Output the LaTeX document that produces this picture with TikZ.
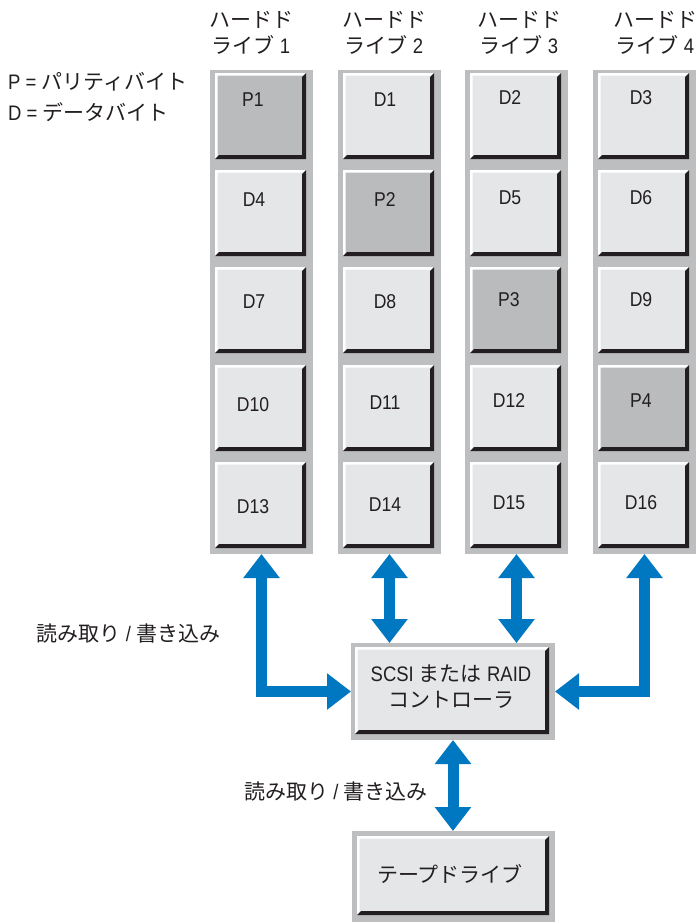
\documentclass[tikz,border=0pt]{standalone}
\usepackage{fontspec}
\setmainfont{Liberation Sans}[FakeStretch=0.88]
\newfontfamily\jp{Noto Sans CJK JP}
\usetikzlibrary{arrows.meta}
\definecolor{colgray}{HTML}{BDBEC0}
\definecolor{face}{HTML}{E5E6E8}
\definecolor{pface}{HTML}{BABBBD}
\definecolor{shadow}{HTML}{231F20}
\definecolor{ink}{HTML}{231F20}
\definecolor{arrowblue}{HTML}{0077C1}
\newcommand\hdblock[5]{%
  \fill[#5] (#1,#2) rectangle ({#1+#3},{#2+#4});
  \fill[white] (#1,{#2+#4}) -- (#1,#2) -- ({#1+#3},#2) -- ({#1+#3-2.5},{#2+2.5}) -- ({#1+2.5},{#2+2.5}) -- ({#1+2.5},{#2+#4-2.5}) -- cycle;
  \fill[shadow] ({#1+#3},#2) -- ({#1+#3},{#2+#4}) -- (#1,{#2+#4}) -- ({#1+4},{#2+#4-4}) -- ({#1+#3-4},{#2+#4-4}) -- ({#1+#3-4},{#2+4}) -- cycle;
}
\begin{document}
\begin{tikzpicture}[x=1pt,y=-1pt,
  colbg/.style={fill=colgray, draw=none, inner sep=0pt, outer sep=0pt},
  txt/.style={text=ink, inner sep=0pt, font=\fontsize{20}{24}\selectfont},
  jtxt/.style={text=ink, inner sep=0pt, align=center, font=\fontsize{21}{26}\selectfont},
  barrow/.style={draw=arrowblue, line width=11pt, line join=miter,
    {Triangle[width=35pt,length=24pt]}-{Triangle[width=35pt,length=24pt]}}]
\useasboundingbox (0,0) rectangle (697,924);
\fill[white] (0,0) rectangle (697,924);

% columns and blocks
\foreach \c/\cx in {1/210,2/338,3/465,4/593} {
  \node[colbg, minimum width=103pt, minimum height=484pt] (col\c) at ({\cx+51.5},312) {};
  \foreach \r/\ty in {1/73,2/170,3/267,4/365,5/462} {
    \ifnum\r=\c \def\ff{pface}\else\def\ff{face}\fi
    \hdblock{\cx+5}{\ty}{91}{86}{\ff}
  }
}

% headers
\node[jtxt] (h1) at (251,33) {{\jp ハードド}\\{\jp ライブ} 1};
\node[jtxt] (h2) at (384,33) {{\jp ハードド}\\{\jp ライブ} 2};
\node[jtxt] (h3) at (519,33) {{\jp ハードド}\\{\jp ライブ} 3};
\node[jtxt] (h4) at (655,33) {{\jp ハードド}\\{\jp ライブ} 4};

% legend
\node[jtxt, anchor=west] (legp) at (8,82) {P = {\jp パリティバイト}};
\node[jtxt, anchor=west] (legd) at (8,112) {D = {\jp データバイト}};

% block labels
\node[txt] (lP1) at (253,100) {P1};
\node[txt] (lD4) at (254,200) {D4};
\node[txt] (lD7) at (254,302) {D7};
\node[txt] (lD10) at (253,405) {D10};
\node[txt] (lD13) at (253,507) {D13};
\node[txt] (lD1) at (385,100) {D1};
\node[txt] (lP2) at (385,200) {P2};
\node[txt] (lD8) at (385,302) {D8};
\node[txt] (lD11) at (385,403) {D11};
\node[txt] (lD14) at (385,505) {D14};
\node[txt] (lD2) at (510,98) {D2};
\node[txt] (lD5) at (510,198) {D5};
\node[txt] (lP3) at (509,300) {P3};
\node[txt] (lD12) at (509,401) {D12};
\node[txt] (lD15) at (509,503) {D15};
\node[txt] (lD3) at (641,98) {D3};
\node[txt] (lD6) at (641,198) {D6};
\node[txt] (lD9) at (641,300) {D9};
\node[txt] (lP4) at (641,401) {P4};
\node[txt] (lD16) at (641,503) {D16};

% controller
\node[colbg, minimum width=204pt, minimum height=97pt] (ctrl) at (453,691.5) {};
\hdblock{355}{647}{194}{87}{face}
\node[jtxt] (ctrltext) at (451,687) {SCSI {\jp または} RAID\\{\jp コントローラ}};

% tape drive
\node[colbg, minimum width=203pt, minimum height=91pt] (tape) at (453.5,876.5) {};
\hdblock{357}{836}{192}{79}{face}
\node[jtxt] (tapetext) at (450,874) {{\jp テープドライブ}};

% read/write labels
\node[jtxt] (rw1) at (128.5,634) {{\jp 読み取り} / {\jp 書き込み}};
\node[jtxt] (rw2) at (336,792) {{\jp 読み取り} / {\jp 書き込み}};

% arrows
\draw[barrow] (col1.south) |- (ctrl.west);
\draw[barrow] (col2.south) -- (col2.south |- ctrl.north);
\draw[barrow] (col3.south) -- (col3.south |- ctrl.north);
\draw[barrow] (col4.south) |- (ctrl.east);
\draw[barrow] (ctrl.south) -- (ctrl.south |- tape.north);
\end{tikzpicture}
\end{document}
